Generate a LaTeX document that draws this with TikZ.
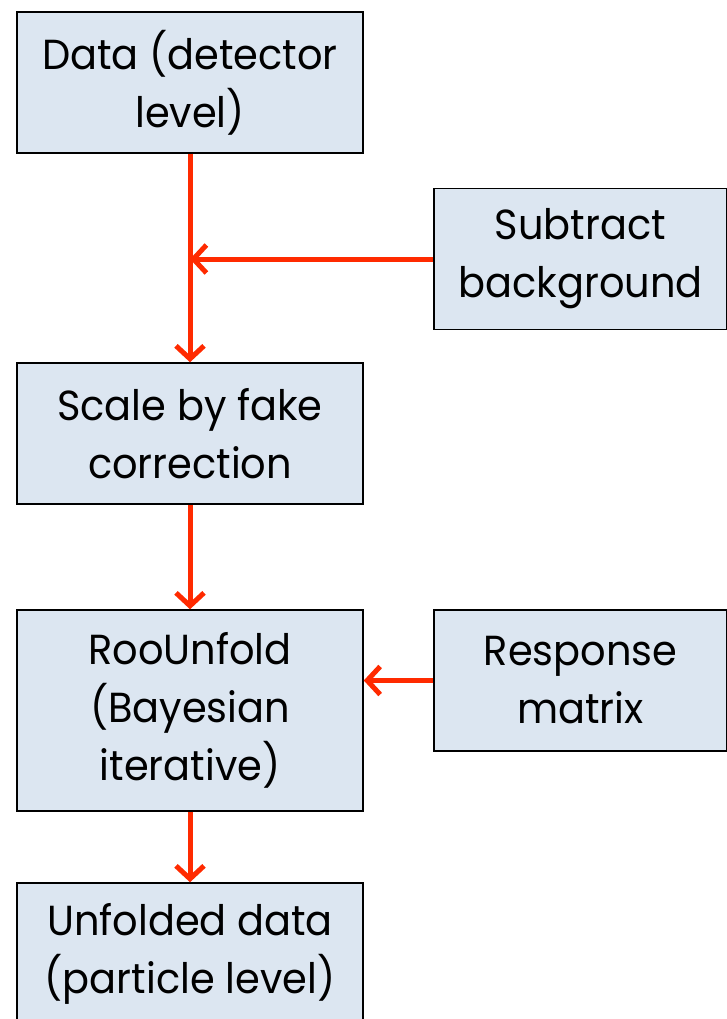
\documentclass[tikz,border=0pt]{standalone}
\usepackage{fontspec}
\setmainfont{Poppins}[FakeStretch=0.95]
\usetikzlibrary{arrows.meta}
\definecolor{boxfill}{HTML}{DCE6F1}
\definecolor{flowred}{HTML}{FF2A00}
\begin{document}
\begin{tikzpicture}[x=1pt, y=-1pt,
    stepbox/.style={draw=black, line width=1.5pt, fill=boxfill, align=center,
      minimum width=346pt, minimum height=141pt, inner sep=0pt,
      font=\fontsize{42}{58}\selectfont},
    sidebox/.style={stepbox, minimum width=293pt},
    flow/.style={draw=flowred, line width=5pt,
      -{Straight Barb[length=13pt, width=28pt, line width=5pt]}}]
  \useasboundingbox (0,0) rectangle (727,1019);
  \clip (0,0) rectangle (727,1019);

  \node[stepbox] (data) at (190,82.5) {Data (detector\\level)};
  \node[sidebox] (subtract) at (580.5,259) {Subtract\\background};
  \node[stepbox] (scale) at (190,433.5) {Scale by fake\\correction};
  \node[stepbox, minimum height=201pt] (unfold) at (190,710.5) {RooUnfold\\(Bayesian\\iterative)};
  \node[sidebox] (response) at (580.5,680.5) {Response\\matrix};
  \node[stepbox] (result) at (190,953.5) {Unfolded data\\(particle level)};

  \coordinate (join) at (data.south |- subtract.west);

  \draw[flow] (data) -- (scale);
  \draw[flow] (subtract) -- (join);
  \draw[flow] (scale) -- (unfold);
  \draw[flow] (response) -- (unfold.east |- response.west);
  \draw[flow] (unfold) -- (result);
\end{tikzpicture}
\end{document}
